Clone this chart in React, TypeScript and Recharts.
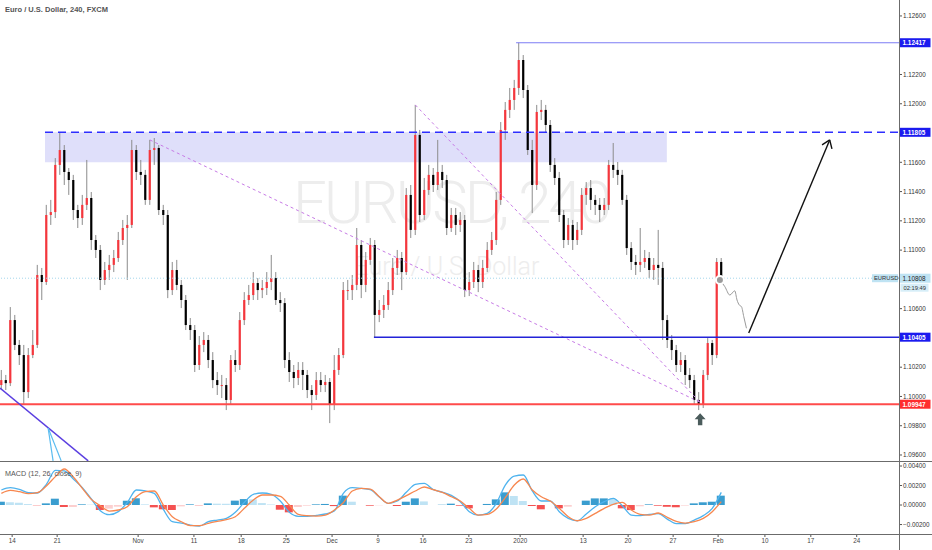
import React from 'react';
import {
  ComposedChart,
  Bar,
  Line,
  XAxis,
  YAxis,
  ReferenceLine,
  ReferenceArea,
  ReferenceDot,
  Cell,
} from 'recharts';

const FONT = '"Liberation Sans", Arial, sans-serif';

// 4h EURUSD, grouped in half-day candles; open = previous close
const firstOpen = 1.10078;
const closes = [
  1.10112, 1.10091, 1.10522, 1.10352, 1.10283, 1.1003, 1.10283, 1.10352, 1.1083, 1.10782,
  1.1124, 1.1126, 1.11582, 1.11684, 1.11534, 1.11479, 1.11274, 1.11219, 1.11309, 1.11356,
  1.11069, 1.11001, 1.10796, 1.10864, 1.10899, 1.10946, 1.11069, 1.11151, 1.11172, 1.11684,
  1.11534, 1.11514, 1.11343, 1.11684, 1.11698, 1.11274, 1.1124, 1.10727, 1.10864, 1.10762,
  1.10659, 1.10488, 1.10454, 1.10215, 1.10352, 1.10386, 1.10249, 1.10112, 1.10078, 1.10078,
  1.09976, 1.10249, 1.10215, 1.10522, 1.10659, 1.10693, 1.10775, 1.10727, 1.10741, 1.10782,
  1.10809, 1.10659, 1.10638, 1.10249, 1.10167, 1.10126, 1.10181, 1.10147, 1.10044, 1.1001,
  1.10112, 1.10078, 1.10099, 1.09942, 1.10181, 1.10283, 1.10727, 1.10727, 1.10762, 1.11035,
  1.10762, 1.10933, 1.11035, 1.10557, 1.10591, 1.10625, 1.10727, 1.10878, 1.10946, 1.1085,
  1.11377, 1.11138, 1.11787, 1.1124, 1.11411, 1.11514, 1.11445, 1.11534, 1.11479, 1.11151,
  1.1124, 1.11172, 1.11206, 1.10727, 1.10782, 1.10864, 1.10782, 1.10878, 1.11001, 1.11069,
  1.11343, 1.11821, 1.11958, 1.12026, 1.12108, 1.12299, 1.12094, 1.11684, 1.11445, 1.11944,
  1.11958, 1.11855, 1.11582, 1.11493, 1.1124, 1.11069, 1.11172, 1.11069, 1.11138, 1.11377,
  1.11424, 1.11343, 1.11309, 1.11274, 1.11309, 1.11582, 1.11548, 1.11514, 1.11343, 1.11014,
  1.10919, 1.10899, 1.10919, 1.10946, 1.10864, 1.10899, 1.10878, 1.10522, 1.10386, 1.10317,
  1.10215, 1.10249, 1.10147, 1.10112, 1.09976, 1.09942, 1.10147, 1.10365, 1.10283, 1.10919,
  1.10808,
];
const highs = [
  1.10181, 1.10147, 1.10611, 1.10557, 1.10386, 1.10352, 1.10331, 1.10454, 1.10899, 1.10878,
  1.11309, 1.11343, 1.11629, 1.118, 1.11718, 1.11561, 1.11514, 1.11309, 1.11377, 1.11616,
  1.11397, 1.11103, 1.11035, 1.10919, 1.10967, 1.11001, 1.11124, 1.11206, 1.1124, 1.11753,
  1.11718, 1.11616, 1.11548, 1.11753, 1.11766, 1.11718, 1.11309, 1.11274, 1.10919, 1.10933,
  1.10796, 1.10693, 1.10536, 1.10488, 1.10413, 1.1044, 1.1042, 1.10303, 1.10167, 1.10147,
  1.10126, 1.10283, 1.10317, 1.10577, 1.10713, 1.10762, 1.1085, 1.10809, 1.10796, 1.1085,
  1.10967, 1.1085, 1.10713, 1.10672, 1.10303, 1.10215, 1.10235, 1.10235, 1.10181, 1.10078,
  1.10167, 1.10167, 1.10147, 1.10126, 1.10283, 1.10331, 1.10782, 1.10796, 1.1083, 1.11151,
  1.11069, 1.10987, 1.11083, 1.11069, 1.10659, 1.10693, 1.10782, 1.10946, 1.11001, 1.10987,
  1.11424, 1.11445, 1.11992, 1.11821, 1.11493, 1.11582, 1.11561, 1.11753, 1.11582, 1.11514,
  1.11288, 1.11288, 1.1126, 1.1124, 1.1085, 1.10919, 1.10899, 1.10933, 1.11055, 1.11124,
  1.11397, 1.11875, 1.12012, 1.12108, 1.12163, 1.12417, 1.12333, 1.12128, 1.11753, 1.11992,
  1.12026, 1.11992, 1.11889, 1.11629, 1.11534, 1.11274, 1.11219, 1.11206, 1.11192, 1.11424,
  1.11465, 1.11479, 1.11377, 1.11356, 1.11356, 1.11616, 1.11732, 1.11602, 1.11548, 1.11377,
  1.11055, 1.10967, 1.11151, 1.11001, 1.10987, 1.10946, 1.11138, 1.10919, 1.10557, 1.1042,
  1.10352, 1.10303, 1.10283, 1.10194, 1.10147, 1.1003, 1.10181, 1.10399, 1.10386, 1.10946,
  1.10946,
];
const lows = [
  1.10044, 1.10044, 1.10071, 1.10317, 1.10215, 1.09949, 1.09989, 1.10262, 1.10331, 1.10659,
  1.10762, 1.11172, 1.11219, 1.11514, 1.11445, 1.11377, 1.11206, 1.11151, 1.11172, 1.11274,
  1.11001, 1.10946, 1.10727, 1.10762, 1.10796, 1.1085, 1.10919, 1.11035, 1.10796, 1.11151,
  1.11479, 1.11445, 1.11309, 1.11309, 1.11582, 1.1124, 1.11172, 1.10672, 1.10693, 1.10727,
  1.10604, 1.10454, 1.10386, 1.10167, 1.10181, 1.10303, 1.10194, 1.10057, 1.1001, 1.09989,
  1.09907, 1.09942, 1.10167, 1.10181, 1.10488, 1.10625, 1.10659, 1.10659, 1.10672, 1.10693,
  1.10727, 1.10625, 1.10577, 1.10194, 1.10099, 1.10057, 1.10078, 1.10044, 1.09989, 1.09907,
  1.09976, 1.1003, 1.1003, 1.09818, 1.09907, 1.10147, 1.10262, 1.10659, 1.10659, 1.10727,
  1.10672, 1.10713, 1.10899, 1.10406, 1.10508, 1.10536, 1.10591, 1.10693, 1.1083, 1.10727,
  1.1083, 1.11083, 1.11103, 1.11192, 1.11206, 1.11377, 1.11397, 1.11411, 1.11424, 1.11103,
  1.11124, 1.11103, 1.11124, 1.10679, 1.10686, 1.10741, 1.10713, 1.10741, 1.1085, 1.10967,
  1.11035, 1.11309, 1.11753, 1.11903, 1.11958, 1.1206, 1.12039, 1.1165, 1.11253, 1.11411,
  1.11889, 1.11807, 1.11534, 1.11445, 1.11192, 1.11014, 1.11035, 1.11001, 1.11035, 1.11103,
  1.11309, 1.11274, 1.1124, 1.11192, 1.1124, 1.11274, 1.11493, 1.11445, 1.11309, 1.10967,
  1.10864, 1.1083, 1.1085, 1.10878, 1.10809, 1.10796, 1.10762, 1.10386, 1.10331, 1.10249,
  1.10167, 1.10167, 1.10078, 1.10057, 1.09942, 1.09907, 1.09921, 1.10112, 1.10215, 1.10262,
  1.10782,
];

// MACD (12, 26, close, 9), one reading every second candle
const macdLine = [
  0.00154, 0.00178, 0.00161, 0.00126, 0.00123, 0.00212, 0.00356, 0.00349, 0.00267, 0.00178,
  0.00062, -0.00058, -0.00099, -0.00068, 0.00027, 0.00154, 0.00144, 0.0012, -0.00044, -0.00171,
  -0.00185, -0.00205, -0.00215, -0.00171, -0.00154, -0.00137, -0.00075, 0.00027, 0.00109, 0.00123,
  0.00109, 0.00041, -0.00075, -0.00116, -0.00116, -0.00106, -0.00092, -0.00062, 0.0012, 0.00178,
  0.00171, 0.00157, 0.00082, 0.00017, 0.00041, 0.0013, 0.00212, 0.00222, 0.00157, 0.00133,
  0.00099, 0.00034, -0.00068, -0.00103, -0.00085, 0.00017, 0.00205, 0.00297, 0.00308, 0.00144,
  0.00041, 0.00041, -0.00068, -0.00137, -0.00161, -0.00092, -0.00017, 0.00034, 0.00068, -0.00007,
  -0.00103, -0.00109, -0.00096, -0.00089, -0.00144, -0.00191, -0.00191, -0.00154, -0.00109, -0.00034,
  0.0013,
];
const signalLine = [
  0.0012, 0.0015, 0.00137, 0.00116, 0.00126, 0.00195, 0.00291, 0.00369, 0.00287, 0.00171,
  0.00058, -0.00007, -0.00062, -0.00051, -0.00017, 0.00085, 0.00137, 0.00144, 0.0, -0.0012,
  -0.00171, -0.00212, -0.00212, -0.00188, -0.00168, -0.0015, -0.0012, -0.00034, 0.00051, 0.00103,
  0.00103, 0.00089, 0.0, -0.00096, -0.00109, -0.00113, -0.00103, -0.00051, 0.00024, 0.00144,
  0.00171, 0.00164, 0.00085, 0.00017, 0.00051, 0.00096, 0.00144, 0.00185, 0.00157, 0.0013,
  0.00085, 0.00041, -0.00034, -0.00103, -0.00096, -0.00041, 0.00075, 0.00205, 0.00267, 0.00154,
  0.00085, 0.00041, -0.00034, -0.0012, -0.00161, -0.00137, -0.00085, -0.00034, 0.00007, 0.00027,
  -0.00051, -0.00096, -0.00103, -0.00082, -0.00126, -0.00168, -0.00185, -0.00171, -0.00137, -0.00068,
  0.00034,
];

const priceTicks = [1.126, 1.122, 1.12, 1.116, 1.114, 1.112, 1.11, 1.106, 1.102, 1.1, 1.098, 1.096];
const macdTicks = [0.004, 0.002, 0, -0.002];
const dateLabels = ['14', '21', 'Nov', '11', '18', '25', 'Dec', '9', '16', '23', '2020', '13', '20', '27', 'Feb', '10', '17', '24'];
const dateBars = [2.4, 12.4, 30.4, 42.8, 53.3, 63.3, 73.5, 83.7, 93.7, 103.9, 115.3, 129.3, 139.3, 149.3, 159.3, 169.7, 179.9, 190.1];

// drawn levels
const swingHigh = 1.12417;
const zoneTop = 1.11805;
const zoneBottom = 1.116;
const support = 1.10405;
const swingLow = 1.09947;
const lastPrice = 1.10808;

// hand-drawn projection after the last candle
const forecastBars = [159.7, 160.8, 161.9, 163.0, 163.5, 164.0, 164.5, 165.0, 165.6];
const forecastPrices = [1.10796, 1.1075, 1.10693, 1.10722, 1.10659, 1.10625, 1.10613, 1.10545, 1.10466];

const X_DOMAIN: [number, number] = [-0.3, 199.5];

const candles = closes.map((c, i) => ({
  i,
  o: i === 0 ? firstOpen : closes[i - 1],
  c,
  h: highs[i],
  l: lows[i],
  range: [lows[i], highs[i]],
}));

const macdRows = macdLine.map((m, k) => {
  const hist = m - signalLine[k];
  const prev = k > 0 ? macdLine[k - 1] - signalLine[k - 1] : hist;
  return { i: k * 2, m, s: signalLine[k], hist, rising: hist >= prev };
});

const forecast = forecastBars.map((i, k) => ({ i, p: forecastPrices[k] }));

function histColor(d: { hist: number; rising: boolean }) {
  if (d.hist >= 0) return d.rising ? '#3a9dcf' : '#bfe3f4';
  return d.rising ? '#fccfcf' : '#f45151';
}

function Candle(props: any) {
  const { x, y, width, height, payload } = props;
  if (x == null || y == null) return null;
  const top = Math.min(y, y + height);
  const span = Math.abs(height);
  const { o, c, h, l } = payload;
  const toY = (v: number) => top + (h - l > 0 ? ((h - v) / (h - l)) * span : 0);
  const cx = x + width / 2;
  const bodyTop = toY(Math.max(o, c));
  const bodyBottom = toY(Math.min(o, c));
  return (
    <g>
      <line x1={cx} x2={cx} y1={top} y2={top + span} stroke="#8c8c8c" strokeWidth={1} />
      <rect
        x={cx - 1.1}
        y={bodyTop}
        width={2.2}
        height={Math.max(1, bodyBottom - bodyTop)}
        fill={c >= o ? '#f5363c' : '#000000'}
      />
    </g>
  );
}

function PriceTag({ viewBox, value, bg, fg }: any) {
  if (!viewBox) return null;
  const x = viewBox.x + viewBox.width;
  const y = viewBox.y;
  return (
    <g>
      <rect x={x + 0.5} y={y - 4.5} width={31} height={9} fill={bg} />
      <text x={x + 3.5} y={y + 2.4} fontSize={6.4} fontWeight={700} fill={fg} fontFamily={FONT}>
        {value.toFixed(5)}
      </text>
    </g>
  );
}

function LastTag({ viewBox }: any) {
  if (!viewBox) return null;
  const x = viewBox.x + viewBox.width;
  const y = viewBox.y;
  return (
    <g fontFamily={FONT}>
      <rect x={x - 27} y={y - 4} width={26} height={8} fill="#bfe3f3" />
      <text x={x - 25} y={y + 2.2} fontSize={5.8} fill="#333">
        EURUSD
      </text>
      <rect x={x + 0.5} y={y - 4.5} width={31} height={9} fill="#bfe3f3" />
      <text x={x + 3.5} y={y + 2.4} fontSize={6.4} fill="#222">
        {lastPrice.toFixed(5)}
      </text>
      <rect x={x + 1.5} y={y + 5.5} width={28} height={8} fill="#d7eef8" />
      <text x={x + 4.5} y={y + 11.6} fontSize={5.8} fill="#333">
        02:19:49
      </text>
    </g>
  );
}

function UpMarker({ cx, cy }: any) {
  if (cx == null) return null;
  const pts = [
    [cx, cy - 6],
    [cx + 5.5, cy],
    [cx + 2.2, cy],
    [cx + 2.2, cy + 6],
    [cx - 2.2, cy + 6],
    [cx - 2.2, cy],
    [cx - 5.5, cy],
  ]
    .map((p) => p.join(','))
    .join(' ');
  return <polygon points={pts} fill="#4b5c5c" />;
}

const tickStyle = { fontSize: 6.3, fill: '#333', fontFamily: FONT };

function PriceChart() {
  return (
    <ComposedChart width={932} height={461} data={candles} margin={{ top: 0, right: 0, bottom: 0, left: 0 }}>
      <XAxis type="number" dataKey="i" domain={X_DOMAIN} hide allowDataOverflow />
      <YAxis
        orientation="right"
        type="number"
        domain={[1.09559, 1.12709]}
        ticks={priceTicks}
        interval={0}
        width={33}
        axisLine={false}
        tickLine={{ stroke: '#555' }}
        tickSize={3}
        tickMargin={1}
        tick={tickStyle}
        tickFormatter={(v: number) => v.toFixed(5)}
        allowDataOverflow
      />
      <ReferenceArea x1={9.7} x2={147.9} y1={zoneBottom} y2={zoneTop} fill="#c9c9f7" fillOpacity={0.6} stroke="none" />
      <ReferenceLine y={lastPrice} stroke="#a3d6ec" strokeDasharray="1 2" label={(p: any) => <LastTag viewBox={p.viewBox} />} />
      <ReferenceLine
        segment={[{ x: 33, y: 1.11753 }, { x: 155.3, y: 1.0996 }]}
        stroke="#c77be6"
        strokeDasharray="3 3"
        ifOverflow="visible"
      />
      <ReferenceLine
        segment={[{ x: 92, y: 1.11992 }, { x: 155.3, y: 1.0996 }]}
        stroke="#c77be6"
        strokeDasharray="3 3"
        ifOverflow="visible"
      />
      <Bar dataKey="range" barSize={3} isAnimationActive={false} shape={(p: any) => <Candle {...p} />} />
      <Line data={forecast} dataKey="p" type="monotone" stroke="#9a9a9a" strokeWidth={1} dot={false} isAnimationActive={false} />
      <ReferenceLine
        segment={[{ x: 114.4, y: swingHigh }, { x: 199.5, y: swingHigh }]}
        stroke="#7c7cf4"
        strokeWidth={1.2}
        ifOverflow="visible"
        label={(p: any) => <PriceTag viewBox={p.viewBox} value={swingHigh} bg="#1b1bef" fg="#fff" />}
      />
      <ReferenceLine
        segment={[{ x: 9.7, y: zoneTop }, { x: 199.5, y: zoneTop }]}
        stroke="#2e2eff"
        strokeWidth={1.5}
        strokeDasharray="8 5"
        ifOverflow="visible"
        label={(p: any) => <PriceTag viewBox={p.viewBox} value={zoneTop} bg="#1b1bef" fg="#fff" />}
      />
      <ReferenceLine
        segment={[{ x: 82.8, y: support }, { x: 199.5, y: support }]}
        stroke="#2323d8"
        strokeWidth={1.5}
        ifOverflow="visible"
        label={(p: any) => <PriceTag viewBox={p.viewBox} value={support} bg="#1b1bef" fg="#fff" />}
      />
      <ReferenceLine
        y={swingLow}
        stroke="#ff4b4b"
        strokeWidth={2}
        label={(p: any) => <PriceTag viewBox={p.viewBox} value={swingLow} bg="#ff2e2e" fg="#fff" />}
      />
      <ReferenceLine
        segment={[{ x: -0.3, y: 1.10057 }, { x: 19.3, y: 1.0956 }]}
        stroke="#5b3fe0"
        strokeWidth={1.5}
        ifOverflow="visible"
      />
      <ReferenceLine segment={[{ x: 10.4, y: 1.09784 }, { x: 11.5, y: 1.0956 }]} stroke="#5bbcf0" strokeWidth={1.2} ifOverflow="visible" />
      <ReferenceLine segment={[{ x: 10.4, y: 1.09784 }, { x: 13.3, y: 1.0956 }]} stroke="#5bbcf0" strokeWidth={1.2} ifOverflow="visible" />
      <ReferenceLine segment={[{ x: 166.1, y: 1.10433 }, { x: 184.1, y: 1.11753 }]} stroke="#111" strokeWidth={1.4} ifOverflow="visible" />
      <ReferenceLine segment={[{ x: 184.1, y: 1.11753 }, { x: 182.4, y: 1.11719 }]} stroke="#111" strokeWidth={1.4} ifOverflow="visible" />
      <ReferenceLine segment={[{ x: 184.1, y: 1.11753 }, { x: 184.6, y: 1.11692 }]} stroke="#111" strokeWidth={1.4} ifOverflow="visible" />
      <ReferenceDot x={155.3} y={1.09845} r={6} shape={(p: any) => <UpMarker {...p} />} ifOverflow="visible" />
    </ComposedChart>
  );
}

function MacdChart() {
  return (
    <ComposedChart width={932} height={88} data={macdRows} margin={{ top: 0, right: 0, bottom: 0, left: 0 }}>
      <XAxis
        type="number"
        dataKey="i"
        domain={X_DOMAIN}
        ticks={dateBars}
        interval={0}
        height={16}
        axisLine={false}
        tickLine={{ stroke: '#555' }}
        tickSize={3}
        tick={{ ...tickStyle, fill: '#444' }}
        tickFormatter={(v: number) => dateLabels[dateBars.indexOf(v)] ?? ''}
        allowDataOverflow
      />
      <YAxis
        orientation="right"
        type="number"
        domain={[-0.00297, 0.00441]}
        ticks={macdTicks}
        interval={0}
        width={33}
        axisLine={false}
        tickLine={{ stroke: '#555' }}
        tickSize={3}
        tickMargin={1}
        tick={tickStyle}
        tickFormatter={(v: number) => (v < 0 ? '\u2212' + Math.abs(v).toFixed(5) : v.toFixed(5))}
        allowDataOverflow
      />
      <Bar dataKey="hist" barSize={8} isAnimationActive={false}>
        {macdRows.map((d) => (
          <Cell key={d.i} fill={histColor(d)} />
        ))}
      </Bar>
      <Line dataKey="m" type="monotone" stroke="#4fb3ee" strokeWidth={1.3} dot={false} isAnimationActive={false} />
      <Line dataKey="s" type="monotone" stroke="#f7874f" strokeWidth={1.3} dot={false} isAnimationActive={false} />
    </ComposedChart>
  );
}

export default function App() {
  const rule = '#6b6b6b';
  return (
    <div style={{ position: 'relative', width: 932, height: 550, background: '#fff', overflow: 'hidden', fontFamily: FONT }}>
      <style>{'body{margin:0}'}</style>
      <svg width={899} height={461} style={{ position: 'absolute', left: 0, top: 0 }}>
        <text x={451} y={223} textAnchor="middle" fontSize={60} fontWeight={300} letterSpacing={-3} fill="#ededed" fontFamily="Roboto, sans-serif">
          EURUSD, 240
        </text>
        <text x={447} y={275} textAnchor="middle" fontSize={25} fontWeight={300} fill="#ededed" fontFamily="Roboto, sans-serif">
          Euro / U.S. Dollar
        </text>
      </svg>
      <div style={{ position: 'absolute', left: 0, top: 0 }}>
        <PriceChart />
      </div>
      <div style={{ position: 'absolute', left: 0, top: 462 }}>
        <MacdChart />
      </div>
      <div style={{ position: 'absolute', left: 0, top: 461, width: 932, height: 1, background: rule }} />
      <div style={{ position: 'absolute', left: 0, top: 534, width: 932, height: 1, background: rule }} />
      <div style={{ position: 'absolute', left: 899, top: 0, width: 1, height: 550, background: rule }} />
      <div style={{ position: 'absolute', left: 5, top: 5, fontSize: 7.5, fontWeight: 700, color: '#555' }}>
        Euro / U.S. Dollar, 240, FXCM
      </div>
      <div style={{ position: 'absolute', left: 5, top: 469, fontSize: 7.2, color: '#555' }}>MACD (12, 26, close, 9)</div>
    </div>
  );
}
